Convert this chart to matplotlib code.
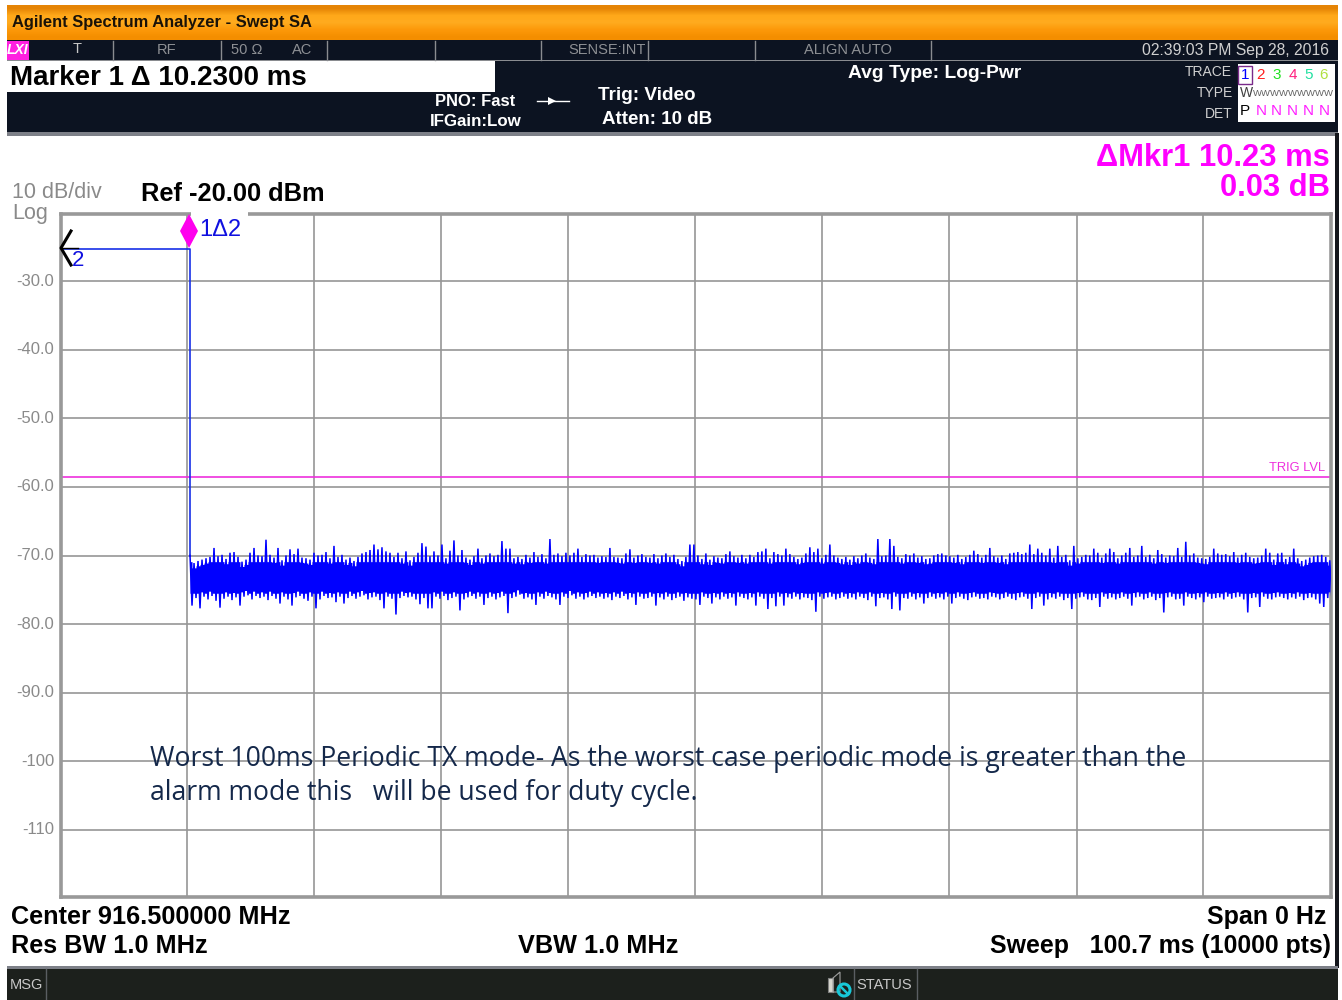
import numpy as np
import matplotlib
matplotlib.use('Agg')
import matplotlib.pyplot as plt
from matplotlib.patches import Rectangle, Polygon, Circle

ref_db = -20.24
y_min = -119.76
sweep_ms = 100.7
marker_ms = 10.23
marker_db = -25.3
trig_db = -58.5
yticks = [-30, -40, -50, -60, -70, -80, -90, -100, -110]
ytick_labels = ['-30.0', '-40.0', '-50.0', '-60.0', '-70.0', '-80.0', '-90.0', '-100', '-110']
xgrid = [9.99, 20.05, 30.13, 40.2, 50.27, 60.35, 70.4, 80.57, 90.56]

# tips of the noise trace, left to right after the marker
noise_hi = [
    -70.0, -71.1, -70.8, -70.6, -70.4, -70.2, -68.9, -70.1, -69.9, -70.5,
    -69.6, -69.5, -70.2, -70.9, -70.6, -69.6, -68.9, -70.0, -70.1, -67.7,
    -69.9, -70.3, -68.9, -70.7, -70.0, -69.1, -69.8, -69.0, -70.3, -70.4,
    -70.6, -69.6, -70.0, -69.9, -69.5, -70.4, -68.6, -70.2, -69.9, -70.6,
    -70.3, -70.8, -70.2, -69.7, -69.5, -69.2, -68.4, -69.1, -68.8, -69.4,
    -69.6, -70.2, -69.6, -70.4, -69.4, -70.7, -70.2, -69.6, -68.2, -68.7,
    -70.1, -69.4, -70.0, -68.4, -70.4, -69.3, -67.8, -70.0, -69.2, -70.3,
    -70.6, -70.1, -69.0, -70.4, -70.0, -69.7, -70.1, -69.9, -67.9, -69.0,
    -69.0, -70.4, -70.2, -70.5, -69.9, -70.3, -69.5, -70.2, -69.8, -70.4,
    -67.6, -69.9, -69.7, -70.1, -69.6, -70.0, -69.6, -69.0, -70.2, -69.8,
    -70.0, -69.9, -70.3, -70.1, -70.2, -68.9, -70.2, -70.3, -70.4, -69.7,
    -69.1, -70.3, -70.0, -69.8, -70.2, -70.3, -69.8, -70.4, -70.0, -69.7,
    -70.2, -69.9, -70.5, -70.8, -70.2, -68.4, -68.4, -70.0, -70.5, -69.7,
    -70.6, -70.1, -70.3, -70.4, -69.8, -69.4, -70.1, -70.3, -69.9, -70.4,
    -69.9, -70.2, -69.5, -69.4, -69.0, -70.4, -69.5, -69.8, -70.0, -69.0,
    -69.8, -70.2, -70.5, -70.3, -69.7, -68.8, -69.5, -69.0, -70.4, -69.9,
    -68.4, -70.0, -70.3, -70.5, -70.2, -70.6, -70.1, -70.4, -70.0, -69.7,
    -70.3, -70.5, -67.6, -70.1, -70.0, -67.6, -68.6, -70.2, -70.4, -69.8,
    -70.0, -69.7, -70.3, -70.1, -70.5, -70.4, -70.0, -69.8, -69.7, -70.0,
    -70.1, -70.3, -69.9, -70.5, -70.2, -69.9, -69.3, -69.8, -70.3, -69.9,
    -68.9, -70.1, -70.3, -70.0, -70.5, -69.7, -69.6, -69.5, -69.8, -69.6,
    -68.4, -69.8, -69.0, -69.6, -70.0, -69.0, -70.3, -68.6, -70.2, -69.9,
    -70.7, -68.6, -70.4, -70.2, -69.9, -70.0, -69.0, -69.6, -70.3, -69.7,
    -69.0, -69.5, -70.4, -70.0, -69.6, -68.9, -70.2, -70.0, -68.6, -70.2,
    -69.9, -70.4, -69.2, -69.8, -70.3, -70.0, -70.1, -68.9, -70.2, -68.0,
    -70.0, -69.7, -70.3, -70.4, -70.5, -70.2, -69.0, -69.7, -69.9, -69.8,
    -70.1, -69.5, -70.3, -69.9, -69.6, -70.2, -70.4, -70.3, -70.0, -69.0,
    -69.6, -70.6, -69.7, -69.6, -70.5, -70.2, -69.0, -70.4, -70.8, -70.6,
    -70.3, -70.1, -70.0, -69.9, -70.2, -70.7,
]
noise_lo = [
    -77.3, -76.2, -77.7, -76.0, -76.4, -75.9, -76.6, -77.6, -76.3, -76.0,
    -76.5, -76.1, -77.3, -76.0, -75.8, -76.4, -75.9, -76.2, -76.0, -76.5,
    -75.9, -76.3, -77.0, -76.0, -76.4, -77.3, -76.1, -75.9, -76.3, -76.6,
    -76.0, -77.7, -76.4, -75.9, -76.2, -76.1, -76.8, -76.0, -77.0, -76.2,
    -75.9, -76.3, -76.0, -75.8, -76.4, -76.1, -76.0, -76.5, -77.7, -76.0,
    -76.3, -78.6, -76.2, -75.9, -76.1, -76.0, -76.4, -77.1, -76.2, -77.7,
    -77.7, -76.0, -76.3, -75.9, -76.5, -76.2, -76.0, -78.0, -76.4, -76.1,
    -75.9, -76.3, -76.0, -77.2, -76.2, -76.0, -76.4, -76.1, -75.9, -78.4,
    -76.2, -76.0, -75.7, -76.3, -76.1, -76.4, -77.2, -76.0, -76.3, -75.9,
    -76.1, -76.4, -77.2, -76.0, -76.2, -75.8, -76.3, -76.0, -76.4, -76.1,
    -75.9, -76.2, -76.0, -76.3, -76.1, -76.5, -76.0, -76.2, -75.9, -76.4,
    -76.1, -77.2, -76.0, -76.3, -76.2, -76.0, -77.3, -76.1, -76.4, -76.0,
    -76.5, -76.2, -76.0, -76.6, -76.1, -76.3, -76.4, -77.2, -76.0, -76.2,
    -77.0, -76.1, -76.4, -76.0, -76.3, -76.1, -77.3, -76.0, -76.2, -76.4,
    -76.1, -77.3, -76.0, -76.3, -77.8, -76.2, -77.4, -76.0, -77.3, -76.1,
    -76.3, -76.0, -76.4, -76.1, -76.2, -76.5, -78.2, -76.0, -76.3, -76.1,
    -76.0, -76.4, -76.2, -76.0, -76.3, -76.1, -76.4, -76.0, -76.2, -76.5,
    -76.0, -77.4, -76.2, -76.1, -76.4, -77.8, -76.0, -78.0, -76.2, -76.3,
    -76.0, -76.4, -76.1, -77.0, -76.2, -76.0, -76.3, -76.1, -76.4, -76.0,
    -77.0, -76.2, -76.0, -76.3, -76.5, -76.1, -76.0, -76.3, -76.2, -76.4,
    -76.0, -76.1, -76.4, -76.2, -76.0, -76.3, -76.5, -76.1, -76.0, -76.3,
    -77.8, -76.2, -76.0, -77.3, -76.4, -76.1, -76.3, -76.0, -76.5, -76.2,
    -77.8, -76.3, -76.1, -76.0, -76.4, -76.5, -76.2, -77.5, -76.0, -76.3,
    -76.1, -76.4, -76.2, -76.0, -76.3, -77.3, -76.1, -76.0, -76.4, -76.2,
    -76.0, -76.5, -76.2, -78.3, -76.1, -76.0, -76.4, -76.3, -77.3, -76.0,
    -76.2, -76.4, -76.1, -76.8, -76.0, -76.3, -76.2, -76.1, -76.4, -76.0,
    -76.3, -76.1, -76.0, -76.4, -78.3, -76.2, -76.1, -77.5, -76.0, -76.3,
    -76.4, -76.1, -76.0, -76.2, -76.4, -76.1, -76.3, -76.0, -76.5, -76.2,
    -76.1, -76.4, -77.0, -77.5, -76.2, -76.0,
]

PX_W, PX_H = 1342, 1000
fig = plt.figure(figsize=(PX_W / 100, PX_H / 100), dpi=100, facecolor='white')

SANS = ['Liberation Sans', 'DejaVu Sans']
NARROW = ['Liberation Sans Narrow', 'Liberation Sans', 'DejaVu Sans']

# overlay in pixel coordinates for the instrument frame
bg = fig.add_axes([0, 0, 1, 1], zorder=0)
bg.set_xlim(0, PX_W)
bg.set_ylim(PX_H, 0)
bg.axis('off')

NAVY = '#0c1321'
orange = np.array([[[0.90, 0.52, 0.02]], [[1.0, 0.66, 0.10]], [[1.0, 0.67, 0.12]],
                   [[0.99, 0.60, 0.04]], [[0.96, 0.56, 0.0]]])
bg.imshow(orange, extent=(7, 1338, 40, 5), aspect='auto', interpolation='bilinear', zorder=1)
bg.set_xlim(0, PX_W)
bg.set_ylim(PX_H, 0)
bg.add_patch(Rectangle((7, 40), 1331, 93, fc=NAVY, ec='none', zorder=1))
bg.add_patch(Rectangle((7, 132), 1331, 4, fc='#7d8088', ec='none', zorder=1))
bg.add_patch(Rectangle((1335, 133), 4, 835, fc='#14161c', ec='none', zorder=1))
bg.add_patch(Rectangle((7, 966), 1331, 34, fc='#1c201c', ec='none', zorder=1))
bg.add_patch(Rectangle((7, 966), 1331, 3, fc='#7d8088', ec='none', zorder=1))
bg.add_patch(Rectangle((7, 61), 488, 31, fc='white', ec='none', zorder=2))
bg.add_patch(Rectangle((7, 60), 1331, 1, fc='#8a8c90', ec='none', zorder=2))
bg.add_patch(Rectangle((1238, 64), 97, 58, fc='white', ec='none', zorder=2))
bg.add_patch(Rectangle((7, 41), 22, 19, fc='#ff20e0', ec='none', zorder=2))
for sep_x in [113, 221, 327, 435, 541, 648, 755, 931]:
    bg.plot([sep_x, sep_x], [41, 60], color='#8a8c90', lw=1, zorder=2)
for sep_x in [46, 854, 917]:
    bg.plot([sep_x, sep_x], [969, 1000], color='#5a5e62', lw=1, zorder=2)


def put(x, y, s, size, color='black', ha='left', weight='normal', family=SANS, **kw):
    bg.text(x, y, s, fontsize=size, color=color, ha=ha, va='center', weight=weight,
            family=family, zorder=6, **kw)


put(12, 23, 'Agilent Spectrum Analyzer - Swept SA', 11.9, '#1a1208', weight='bold', family=NARROW)
put(18, 50, 'LXI', 10, 'white', ha='center', weight='bold', style='italic', family=NARROW)
put(77, 49, 'T', 10.5, '#c8c8c8', ha='center')
put(167, 50, 'RF', 10.5, '#8e9094', ha='center')
put(247, 50, '50 Ω', 10.5, '#8e9094', ha='center')
put(302, 50, 'AC', 10.5, '#8e9094', ha='center')
put(607, 50, 'SENSE:INT', 10.5, '#8e9094', ha='center')
put(848, 50, 'ALIGN AUTO', 10.5, '#8e9094', ha='center')
put(1329, 50, '02:39:03 PM Sep 28, 2016', 11.3, '#d0d0d0', ha='right')
put(10, 78, 'Marker 1 Δ 10.2300 ms', 20, 'black', weight='bold')
put(475, 102, 'PNO: Fast', 11.9, 'white', ha='center', weight='bold')
put(476, 122, 'IFGain:Low', 12.2, 'white', ha='center', weight='bold')
bg.plot([537, 569], [101, 101], color='white', lw=1, zorder=6)
bg.add_patch(Polygon([[548, 97], [548, 105], [556, 101]], fc='white', ec='none', zorder=6))
put(598, 96, 'Trig: Video', 13.6, 'white', weight='bold')
put(602, 119, 'Atten: 10 dB', 13.5, 'white', weight='bold')
put(848, 74, 'Avg Type: Log-Pwr', 13.9, 'white', weight='bold')

put(1232, 72, 'TRACE', 10, '#d0d0d0', ha='right')
put(1233, 93, 'TYPE', 10, '#d0d0d0', ha='right')
put(1233, 114, 'DET', 10, '#d0d0d0', ha='right')
bg.add_patch(Rectangle((1238, 66), 14, 18, fc='none', ec='#7a2a8a', lw=1, zorder=5))
trace_ids = ['1', '2', '3', '4', '5', '6']
trace_cols = ['#0000ff', '#ff2020', '#20e020', '#ff2080', '#20e0a0', '#b0e040']
det_labels = ['P', 'N', 'N', 'N', 'N', 'N']
det_cols = ['black', '#ff20ff', '#ff20ff', '#ff20ff', '#ff20ff', '#ff20ff']
for k in range(6):
    put(1245 + k * 15.8, 75, trace_ids[k], 11, trace_cols[k], ha='center')
    put(1245 + k * 15.8, 111, det_labels[k], 11, det_cols[k], ha='center')
put(1240, 93, 'W', 10, '#404040')
put(1253, 93, 'WWWWWWWWW', 6.8, '#606060', family=NARROW)

put(1330, 158, 'ΔMkr1 10.23 ms', 22.2, '#ff00ff', ha='right', weight='bold')
put(1330, 188, '0.03 dB', 22.2, '#ff00ff', ha='right', weight='bold')

put(12, 193, '10 dB/div', 15.5, '#8a8a8a')
put(12, 213, 'Log', 15.5, '#8a8a8a')
put(141, 194, 'Ref -20.00 dBm', 18.3, 'black', weight='bold')

put(11, 917, 'Center 916.500000 MHz', 18.2, 'black', weight='bold')
put(11, 946, 'Res BW 1.0 MHz', 18.2, 'black', weight='bold')
put(518, 946, 'VBW 1.0 MHz', 18.2, 'black', weight='bold')
put(1326, 917, 'Span 0 Hz', 18, 'black', ha='right', weight='bold')
put(1331, 946, 'Sweep   100.7 ms (10000 pts)', 17.9, 'black', ha='right', weight='bold')

put(10, 985, 'MSG', 10.5, '#c8c8c8')
put(856, 985, 'STATUS', 10.5, '#c8c8c8')
bg.add_patch(Rectangle((828, 978), 5, 14, fc='#d8d8d0', ec='#808080', lw=0.8, zorder=6))
bg.add_patch(Polygon([[833, 978], [840, 972], [840, 992], [833, 992]], fc='none', ec='#a0a0a0', lw=0.8, zorder=6))
bg.add_patch(Circle((844, 990), 6, fc='none', ec='#18c8d8', lw=2.2, zorder=7))
bg.plot([840, 848], [986, 994], color='#18c8d8', lw=1.8, zorder=7)

# plot area
left, right, top, bottom = 61, 1331, 214, 897
ax = fig.add_axes([left / PX_W, 1 - bottom / PX_H, (right - left) / PX_W, (bottom - top) / PX_H],
                  zorder=2, facecolor='white')
ax.set_xlim(0, sweep_ms)
ax.set_ylim(y_min, ref_db)
ax.set_xticks([])
ax.set_yticks([])
for sp in ax.spines.values():
    sp.set_color('#999999')
    sp.set_linewidth(2.6)
for v in yticks:
    ax.axhline(v, color='#969696', lw=1.2, zorder=1)
for v in xgrid:
    ax.axvline(v, color='#969696', lw=1.2, zorder=1)
for v, s in zip(yticks, ytick_labels):
    bg.text(54, 281 + (-30 - v) * 6.8625, s, fontsize=12, color='#8a8a8a', ha='right', va='center', family=SANS)

ax.axhline(trig_db, color='#ee30dd', lw=1.2, zorder=2)
ax.text(100.2, trig_db + 0.35, 'TRIG LVL', fontsize=9.3, color='#ee30dd', ha='right', va='bottom', family=SANS)

hi = np.array(noise_hi)
lo = np.array(noise_lo)
t = np.linspace(marker_ms, sweep_ms - 0.1, len(hi))
half = (t[1] - t[0]) / 2
zig_t = np.column_stack([t, t + half]).ravel()
zig_v = np.column_stack([hi, lo]).ravel()
ax.plot([0, marker_ms, marker_ms], [marker_db, marker_db, noise_hi[0]], color='#1830e8', lw=1.2, zorder=3)
# solid body of the trace sits just inside the tips
ax.fill_between(t, np.minimum(hi, -70.2) - 0.7, np.maximum(lo, -76.2) + 0.7, step='mid', color='#0000ff', lw=0, zorder=3)
ax.plot(zig_t, zig_v, color='#0000ff', lw=1.1, zorder=3, solid_joinstyle='miter')

# marker and annotation on top of everything
top_ax = fig.add_axes([0, 0, 1, 1], zorder=3)
top_ax.set_xlim(0, PX_W)
top_ax.set_ylim(PX_H, 0)
top_ax.axis('off')
top_ax.patch.set_alpha(0)
top_ax.add_patch(Rectangle((191, 210), 57, 8, fc='white', ec='none'))
top_ax.add_patch(Polygon([[189, 214], [198, 231], [189, 248], [180, 231]], fc='#ff00ee', ec='none'))
top_ax.text(199, 230, '1Δ2', fontsize=17, color='#1010e0', va='center', family=SANS)
top_ax.text(72, 260, '2', fontsize=16, color='#1010e0', va='center', family=SANS)
top_ax.plot([71, 61, 71], [231, 248, 265], color='black', lw=2.2)
top_ax.plot([61, 78], [248, 248], color='black', lw=1)
note = ['Worst 100ms Periodic TX mode- As the worst case periodic mode is greater than the',
        'alarm mode this   will be used for duty cycle.']
top_ax.text(150, 759, note[0], fontsize=19.1, color='#14284a', va='center', family=['Open Sans', 'DejaVu Sans'])
top_ax.text(150, 793, note[1], fontsize=19.1, color='#14284a', va='center', family=['Open Sans', 'DejaVu Sans'])

fig.savefig('out.png', dpi=100)
